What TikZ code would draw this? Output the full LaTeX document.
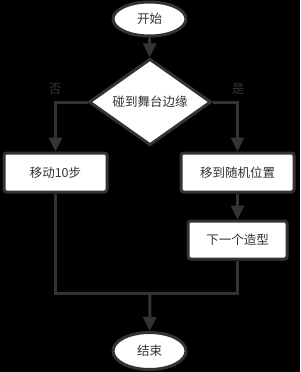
\documentclass[tikz,border=0pt]{standalone}
\usepackage{fontspec}
\setmainfont{Noto Sans CJK SC}
\usetikzlibrary{shapes.geometric,arrows.meta}
\definecolor{ln}{HTML}{333333}
\begin{document}
\begin{tikzpicture}[x=1pt,y=-1pt,
  every node/.style={font=\fontsize{12.5}{14}\selectfont, text=ln},
  term/.style={ellipse, draw=ln, line width=3pt, fill=white, minimum width=73pt, minimum height=34pt, inner sep=0pt},
  proc/.style={rectangle, rounded corners=2.5pt, draw=ln, line width=3pt, fill=white, inner sep=0pt},
  dec/.style={diamond, draw=ln, line width=3pt, fill=white, minimum width=122pt, minimum height=78pt, inner sep=0pt},
  conn/.style={draw=ln, line width=3pt},
  arr/.style={conn, -{Triangle[width=13pt,length=14pt]}},
  lbl/.style={text=ln}]
\fill[black] (0,0) rectangle (300,372);
\useasboundingbox (0,0) rectangle (300,372);
\node[term] (start) at (149.5,19) {开始};
\node[dec] (d) at (150,102) {碰到舞台边缘};
\node[proc, minimum width=103pt, minimum height=39pt] (move) at (55.5,172.5) {移动10步};
\node[proc, minimum width=113pt, minimum height=39pt] (rand) at (237.5,172.5) {移到随机位置};
\node[proc, minimum width=99pt, minimum height=38pt] (next) at (237.5,240) {下一个造型};
\node[term, minimum height=37pt] (end) at (149.5,351) {结束};
\node[lbl] (no) at (55,89) {否};
\node[lbl] (yes) at (238,89) {是};
\coordinate (j) at (150,293);
\draw[arr] (start) -- (d);
\draw[arr] (d.west) -| (move.north);
\draw[arr] (d.east) -| (rand.north);
\draw[arr] (rand) -- (next);
\draw[conn] (move.south) |- (j) -| (next.south);
\draw[arr] (j) -- (end);
\end{tikzpicture}
\end{document}
